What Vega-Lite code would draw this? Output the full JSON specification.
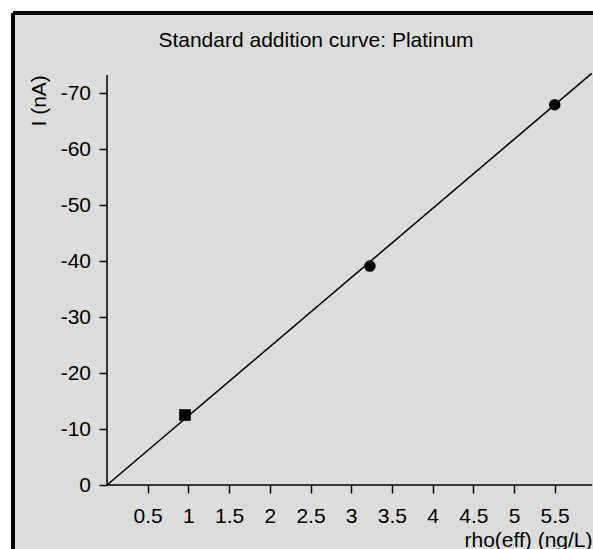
{
  "$schema": "https://vega.github.io/schema/vega-lite/v6.json",
  "width": 580,
  "height": 536,
  "autosize": {"type": "none"},
  "padding": {"left": 13, "top": 13, "right": 0, "bottom": 0},
  "background": "white",
  "config": {
    "view": {"fill": "#dcdcdc", "stroke": "black", "strokeWidth": 4, "strokeDash": [580, 1116, 536, 0]},
    "font": "Liberation Sans"
  },
  "title": {
    "text": "Standard addition curve: Platinum",
    "fontSize": 21,
    "fontWeight": "normal",
    "color": "black",
    "font": "Liberation Sans",
    "anchor": "middle",
    "frame": "group",
    "baseline": "alphabetic",
    "offset": -55,
    "dx": 13
  },
  "datasets": {
    "points": [
      {"x": 0.958, "y": -12.5, "kind": "sample"},
      {"x": 3.23, "y": -39.1, "kind": "addition"},
      {"x": 5.5, "y": -67.9, "kind": "addition"}
    ],
    "fit": [
      {"x": 0, "y": 0},
      {"x": 5.955, "y": -73.5}
    ],
    "axes": [
      {"x": 0, "x2": 0, "y": 0, "y2": -73.2},
      {"x": 0, "x2": 5.96, "y": 0, "y2": 0}
    ]
  },
  "layer": [
    {
      "data": {"name": "fit"},
      "mark": {"type": "line", "color": "black", "strokeWidth": 1.5},
      "encoding": {
        "x": {
          "field": "x",
          "type": "quantitative",
          "scale": {"domain": [-1.1548, 5.9705], "nice": false, "zero": false},
          "axis": {
            "orient": "bottom",
            "offset": -64,
            "domain": false,
            "grid": false,
            "values": [0.5, 1, 1.5, 2, 2.5, 3, 3.5, 4, 4.5, 5, 5.5],
            "tickSize": 8,
            "tickWidth": 1.5,
            "tickColor": "black",
            "labelPadding": 12,
            "labelFontSize": 21,
            "labelColor": "black",
            "labelFont": "Liberation Sans",
            "labelOverlap": false,
            "labelFlush": false,
            "labelExpr": "toString(datum.value)",
            "title": "rho(eff) (ng/L)",
            "titleFontSize": 21,
            "titleFontWeight": "normal",
            "titleColor": "black",
            "titleFont": "Liberation Sans",
            "titleX": 579,
            "titleY": 61,
            "titleAlign": "right",
            "titleBaseline": "alphabetic"
          }
        },
        "y": {
          "field": "y",
          "type": "quantitative",
          "scale": {"domain": [-84.286, 11.4286], "reverse": true, "nice": false, "zero": false},
          "axis": {
            "orient": "left",
            "offset": -94,
            "domain": false,
            "grid": false,
            "values": [-70, -60, -50, -40, -30, -20, -10, 0],
            "tickSize": 8,
            "tickWidth": 1.5,
            "tickColor": "black",
            "labelPadding": 8.5,
            "labelFontSize": 21,
            "labelColor": "black",
            "labelFont": "Liberation Sans",
            "labelOverlap": false,
            "labelFlush": false,
            "labelExpr": "toString(datum.value)",
            "title": "I (nA)",
            "titleFontSize": 21,
            "titleFontWeight": "normal",
            "titleColor": "black",
            "titleFont": "Liberation Sans",
            "titleAngle": 270,
            "titleX": -62,
            "titleY": 113,
            "titleAlign": "left",
            "titleBaseline": "alphabetic"
          }
        }
      }
    },
    {
      "data": {"name": "axes"},
      "mark": {"type": "rule", "color": "black", "strokeWidth": 1.5},
      "encoding": {
        "x": {"field": "x", "type": "quantitative"},
        "x2": {"field": "x2"},
        "y": {"field": "y", "type": "quantitative"},
        "y2": {"field": "y2"}
      }
    },
    {
      "data": {"name": "points"},
      "mark": {"type": "point", "filled": true, "opacity": 1, "color": "black"},
      "encoding": {
        "x": {"field": "x", "type": "quantitative"},
        "y": {"field": "y", "type": "quantitative"},
        "shape": {
          "field": "kind",
          "type": "nominal",
          "scale": {"domain": ["sample", "addition"], "range": ["square", "circle"]},
          "legend": null
        },
        "size": {"value": 135}
      }
    }
  ]
}
